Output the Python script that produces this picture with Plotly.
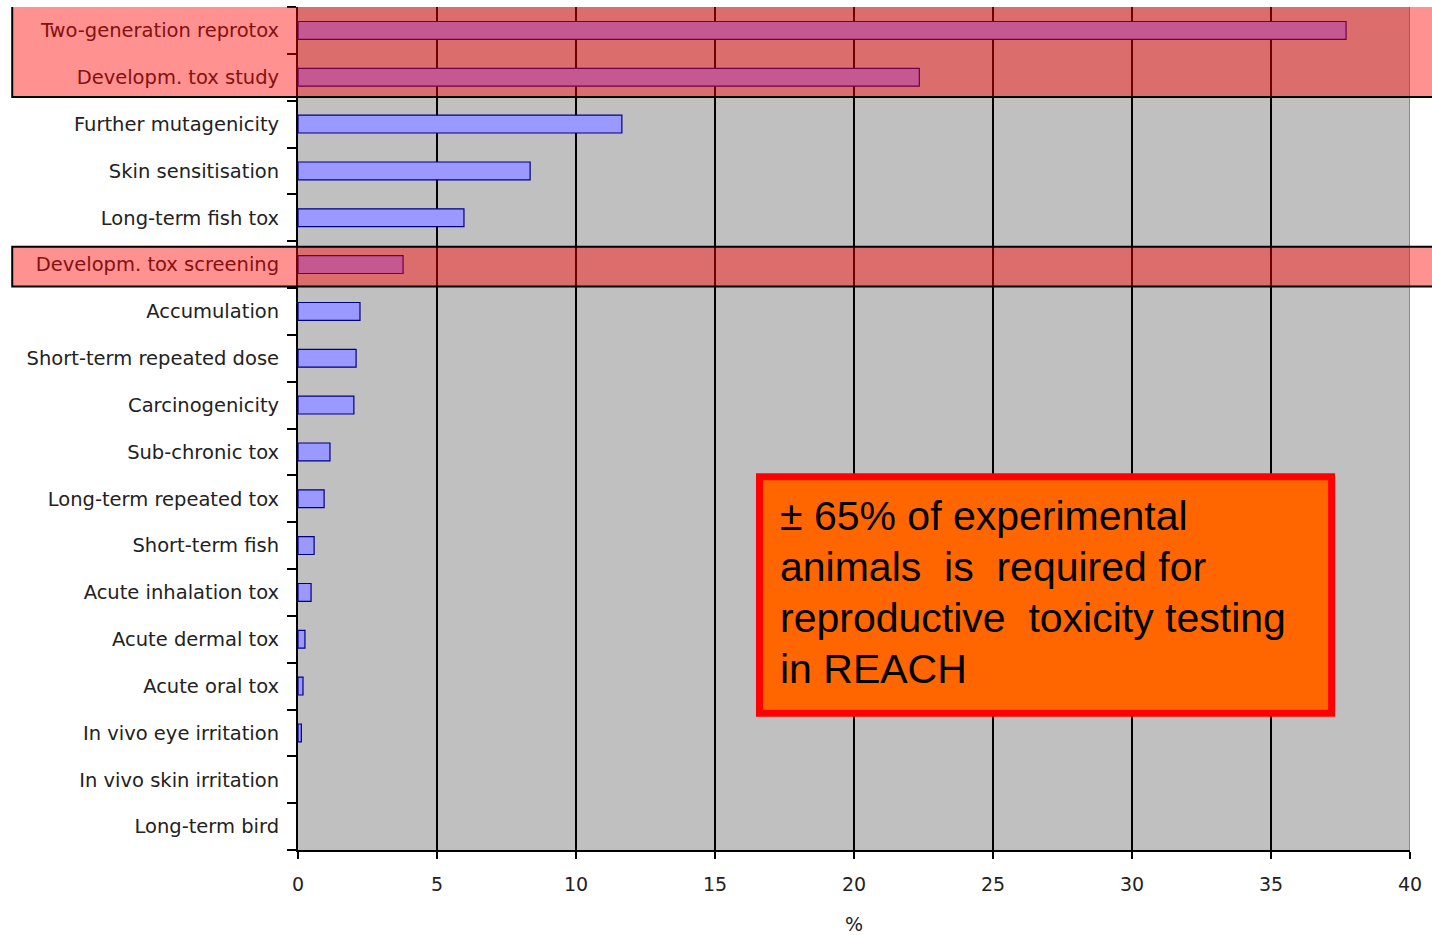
import plotly.graph_objects as go

# Share of experimental animals per REACH test type (%)
categories = [
    "Two-generation reprotox",
    "Developm. tox study",
    "Further mutagenicity",
    "Skin sensitisation",
    "Long-term fish tox",
    "Developm. tox screening",
    "Accumulation",
    "Short-term repeated dose",
    "Carcinogenicity",
    "Sub-chronic tox",
    "Long-term repeated tox",
    "Short-term fish",
    "Acute inhalation tox",
    "Acute dermal tox",
    "Acute oral tox",
    "In vivo eye irritation",
    "In vivo skin irritation",
    "Long-term bird",
]
percent = [37.7, 22.35, 11.65, 8.35, 5.97, 3.78, 2.23, 2.09, 2.01,
           1.15, 0.94, 0.58, 0.47, 0.25, 0.18, 0.12, 0.0, 0.0]

# Reproductive-toxicity rows that get a highlight band
repro_groups = [
    ["Two-generation reprotox", "Developm. tox study"],
    ["Developm. tox screening"],
]

x_ticks = [0, 5, 10, 15, 20, 25, 30, 35, 40]
x_title = "%"
callout_lines = [
    "± 65% of experimental",
    "animals  is  required for",
    "reproductive  toxicity testing",
    "in REACH",
]

LABEL_FONT = "DejaVu Sans"
idx = list(range(len(categories)))

fig = go.Figure()
fig.add_trace(go.Bar(
    x=percent,
    y=idx,
    orientation="h",
    marker=dict(
        color="#9999FF",
        line=dict(color="#000080", width=[1.2 if v > 0 else 0 for v in percent]),
    ),
    hoverinfo="x+text",
    text=categories,
    textposition="none",
))

shapes = []
# right border of the plot area
shapes.append(dict(type="line", xref="x", yref="paper", x0=40, x1=40, y0=0, y1=1,
                   line=dict(color="#8a8a8a", width=2), layer="between"))

# highlight bands across labels and plot
band_pad = [(-0.545, 0.42), (-0.383, 0.47)]
for group, (pad_top, pad_bot) in zip(repro_groups, band_pad):
    rows = [categories.index(c) for c in group]
    shapes.append(dict(
        type="rect", xref="paper", yref="y",
        x0=-0.257, x1=1.06,
        y0=min(rows) + pad_top, y1=max(rows) + pad_bot,
        fillcolor="rgba(255,0,0,0.43)",
        line=dict(color="black", width=2),
        layer="above",
    ))

# callout box
shapes.append(dict(
    type="rect", xref="x", yref="y",
    x0=16.6, x1=37.18, y0=9.53, y1=14.58,
    fillcolor="#FF6600",
    line=dict(color="#FF0000", width=7),
    layer="above",
))

# callout text, one annotation per line
line_y0, line_step = 10.36, 1.09
annotations = [
    dict(
        xref="x", yref="y", x=17.27, y=line_y0 + k * line_step,
        xanchor="left", yanchor="middle", align="left",
        text=line, showarrow=False,
        font=dict(family="Liberation Sans", size=41, color="black"),
    )
    for k, line in enumerate(callout_lines)
]

fig.update_layout(
    width=1432, height=935,
    margin=dict(l=298, r=22, t=7, b=85),
    paper_bgcolor="white",
    plot_bgcolor="#C0C0C0",
    showlegend=False,
    bargap=0.62,
    shapes=shapes,
    annotations=annotations,
    xaxis=dict(
        range=[0, 40],
        automargin=False,
        tickmode="array", tickvals=x_ticks,
        showgrid=True, gridcolor="black", gridwidth=1.5,
        zeroline=False,
        showline=True, linecolor="black", linewidth=2,
        ticks="outside", ticklen=7, tickcolor="black", tickwidth=1.5,
        ticklabelstandoff=9,
        tickfont=dict(family=LABEL_FONT, size=19, color="#222222"),
        title=dict(text=x_title, standoff=26,
                   font=dict(family=LABEL_FONT, size=19, color="#222222")),
    ),
    yaxis=dict(
        range=[17.5, -0.5],
        automargin=False,
        tickmode="array", tickvals=idx, ticktext=categories,
        showgrid=False, zeroline=False,
        showline=True, linecolor="black", linewidth=2,
        ticks="outside", ticklen=13, tickcolor="rgba(0,0,0,0)",
        tickfont=dict(family=LABEL_FONT, size=19.5, color="#222222"),
        minor=dict(tickmode="array", tickvals=[i - 0.5 for i in range(len(categories) + 1)],
                   ticks="outside", ticklen=9, tickcolor="black", tickwidth=1.5,
                   showgrid=False),
    ),
)

fig.write_html("out.html")
